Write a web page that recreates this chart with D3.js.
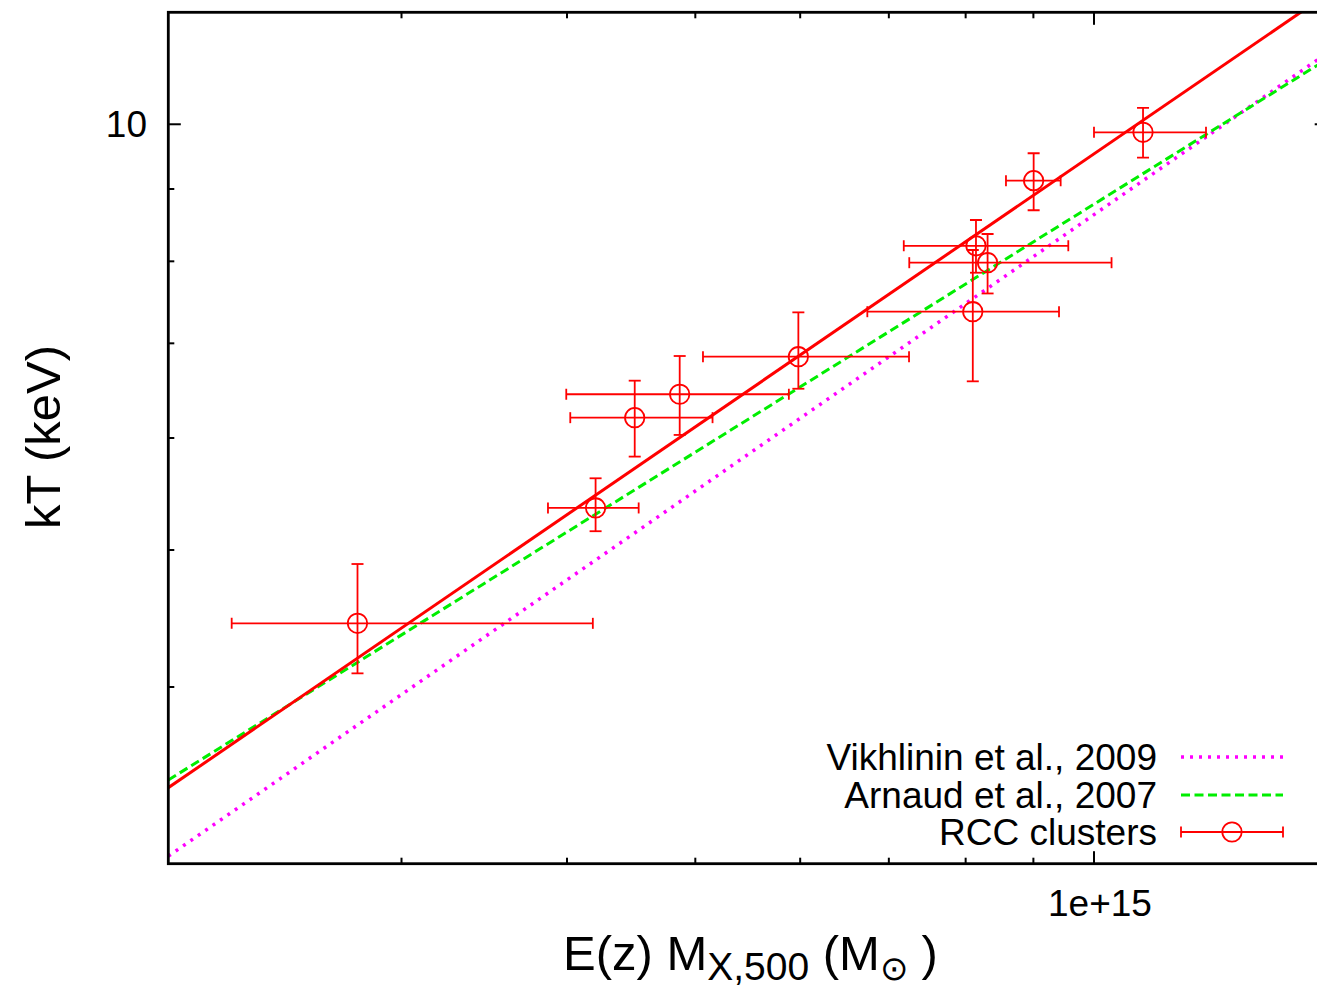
<!DOCTYPE html>
<html>
<head>
<meta charset="utf-8">
<script src="https://cdn.jsdelivr.net/npm/d3@7"></script>
<style>
  html, body { margin: 0; padding: 0; background: #fff; }
  svg { display: block; }
  text { font-family: "Liberation Sans", Arial, Helvetica, sans-serif; fill: #000; }
</style>
</head>
<body>
<svg id="chart" width="1317" height="989"></svg>
<script>
// ---- data ----
const massX  = [2.779e14, 4.204e14, 4.500e14, 4.866e14, 5.981e14, 8.100e14, 8.145e14, 8.311e14, 9.004e14, 1.089e15];
const massLo = [2.233e14, 3.870e14, 4.023e14, 3.995e14, 5.067e14, 6.743e14, 7.184e14, 7.253e14, 8.581e14, 1.000e15];
const massHi = [4.184e14, 4.531e14, 5.152e14, 5.883e14, 7.250e14, 9.410e14, 9.563e14, 1.031e15, 9.437e14, 1.215e15];
const kT     = [4.437, 5.354, 6.202, 6.443, 6.849, 7.370, 8.205, 7.982, 9.123, 9.870];
const kTLo   = [4.090, 5.155, 5.821, 6.030, 6.501, 6.580, 7.853, 7.592, 8.694, 9.471];
const kTHi   = [4.887, 5.619, 6.587, 6.857, 7.362, 8.149, 8.557, 8.364, 9.539, 10.27];

// relation end points (power laws are straight on log-log axes)
const relMass      = [2e14, 1.5e15];
const rccFitKT     = [3.395, 12.36];
const arnaudKT     = [3.438, 11.12];
const vikhlininKT  = [3.037, 11.23];

const xDomain = [2e14, 1.5e15];
const yDomain = [3, 12];
const xMinorTicks = [3e14, 4e14, 5e14, 6e14, 7e14, 8e14, 9e14];
const xMajorTicks = [1e15];
const xTickLabels = ["1e+15"];
const yMinorTicks = [4, 5, 6, 7, 8, 9];
const yMajorTicks = [10];
const yTickLabels = ["10"];

const legendLabels = ["Vikhlinin et al., 2009", "Arnaud et al., 2007", "RCC clusters"];

// ---- layout ----
const L = 168.3, R = 1327.2, T = 12.3, B = 863.7;
const RED = "#ff0000", GREEN = "#00ee00", MAGENTA = "#ff00ff";

const svg = d3.select("#chart");
const x = d3.scaleLog().domain(xDomain).range([L, R]);
const y = d3.scaleLog().domain(yDomain).range([B, T]);

svg.append("defs").append("clipPath").attr("id", "plotclip")
  .append("rect").attr("x", L).attr("y", T).attr("width", R - L).attr("height", B - T);

const plot = svg.append("g").attr("clip-path", "url(#plotclip)");

function relLine(vals, color, dash, width) {
  const pts = relMass.map((m, i) => [x(m), y(vals[i])]);
  plot.append("path")
    .attr("d", d3.line()(pts))
    .attr("fill", "none")
    .attr("stroke", color)
    .attr("stroke-width", width)
    .attr("stroke-dasharray", dash);
}
relLine(vikhlininKT, MAGENTA, "3,6", 3.5);
relLine(arnaudKT, GREEN, "9,4.5", 3);

// data points with error bars
const pts = massX.map((m, i) => ({m, lo: massLo[i], hi: massHi[i], t: kT[i], tlo: kTLo[i], thi: kTHi[i]}));
const eb = plot.append("g").attr("stroke", RED).attr("stroke-width", 1.8).attr("fill", "none");
const capX = 5.5, capY = 6;
pts.forEach(p => {
  const cx = x(p.m), cy = y(p.t);
  const x0 = x(p.lo), x1 = x(p.hi), y0 = y(p.tlo), y1 = y(p.thi);
  eb.append("line").attr("x1", x0).attr("x2", x1).attr("y1", cy).attr("y2", cy);
  eb.append("line").attr("x1", x0).attr("x2", x0).attr("y1", cy - capX).attr("y2", cy + capX);
  eb.append("line").attr("x1", x1).attr("x2", x1).attr("y1", cy - capX).attr("y2", cy + capX);
  eb.append("line").attr("x1", cx).attr("x2", cx).attr("y1", y0).attr("y2", y1);
  eb.append("line").attr("x1", cx - capY).attr("x2", cx + capY).attr("y1", y0).attr("y2", y0);
  eb.append("line").attr("x1", cx - capY).attr("x2", cx + capY).attr("y1", y1).attr("y2", y1);
  eb.append("circle").attr("cx", cx).attr("cy", cy).attr("r", 9.7);
});

relLine(rccFitKT, RED, null, 3);

// ---- axes / ticks (inward, mirrored) ----
const axG = svg.append("g");
function ticksX(vals, len) {
  vals.forEach(v => {
    axG.append("line").attr("x1", x(v)).attr("x2", x(v)).attr("y1", B).attr("y2", B - len)
      .attr("stroke", "#000").attr("stroke-width", 2);
    axG.append("line").attr("x1", x(v)).attr("x2", x(v)).attr("y1", T).attr("y2", T + len)
      .attr("stroke", "#000").attr("stroke-width", 2);
  });
}
function ticksY(vals, len) {
  vals.forEach(v => {
    axG.append("line").attr("x1", L).attr("x2", L + len).attr("y1", y(v)).attr("y2", y(v))
      .attr("stroke", "#000").attr("stroke-width", 2);
    axG.append("line").attr("x1", R).attr("x2", R - len).attr("y1", y(v)).attr("y2", y(v))
      .attr("stroke", "#000").attr("stroke-width", 2);
  });
}
ticksX(xMinorTicks, 6);
ticksX(xMajorTicks, 12.5);
ticksY(yMinorTicks, 6);
ticksY(yMajorTicks, 12.5);

axG.append("rect").attr("x", L).attr("y", T).attr("width", R - L).attr("height", B - T)
  .attr("fill", "none").attr("stroke", "#000").attr("stroke-width", 2.8);

yMajorTicks.forEach((v, i) => {
  svg.append("text").attr("x", 147).attr("y", y(v) + 13).attr("text-anchor", "end")
    .attr("font-size", 37).text(yTickLabels[i]);
});
xMajorTicks.forEach((v, i) => {
  svg.append("text").attr("x", x(v) + 6).attr("y", 916).attr("text-anchor", "middle")
    .attr("font-size", 37).text(xTickLabels[i]);
});

// axis titles
svg.append("text").attr("transform", "translate(60,437) rotate(-90)")
  .attr("text-anchor", "middle").attr("font-size", 49).text("kT (keV)");

const xt = svg.append("text").attr("x", 563).attr("y", 970).attr("font-size", 49);
xt.append("tspan").text("E(z) M");
xt.append("tspan").attr("font-size", 39).attr("dy", 10).text("X,500");
xt.append("tspan").attr("dy", -10).text(" (M");
xt.append("tspan").attr("font-size", 34).attr("dy", 10).text("\u2299");
xt.append("tspan").attr("dy", -10).text(" )");

// ---- legend ----
const legRows = [757, 795, 832];
const lx0 = 1181, lx1 = 1283, ltx = 1157;
legendLabels.forEach((lab, i) => {
  svg.append("text").attr("x", ltx).attr("y", legRows[i] + 13).attr("text-anchor", "end")
    .attr("font-size", 37).text(lab);
});
svg.append("line").attr("x1", lx0).attr("x2", lx1).attr("y1", legRows[0]).attr("y2", legRows[0])
  .attr("stroke", MAGENTA).attr("stroke-width", 3.5).attr("stroke-dasharray", "3,6");
svg.append("line").attr("x1", lx0).attr("x2", lx1).attr("y1", legRows[1]).attr("y2", legRows[1])
  .attr("stroke", GREEN).attr("stroke-width", 3).attr("stroke-dasharray", "9,4.5");
const lg = svg.append("g").attr("stroke", RED).attr("stroke-width", 1.8).attr("fill", "none");
const ly = legRows[2], lcx = (lx0 + lx1) / 2;
lg.append("line").attr("x1", lx0).attr("x2", lx1).attr("y1", ly).attr("y2", ly);
lg.append("line").attr("x1", lx0).attr("x2", lx0).attr("y1", ly - capX).attr("y2", ly + capX);
lg.append("line").attr("x1", lx1).attr("x2", lx1).attr("y1", ly - capX).attr("y2", ly + capX);
lg.append("circle").attr("cx", lcx).attr("cy", ly).attr("r", 9.7);
</script>
</body>
</html>
